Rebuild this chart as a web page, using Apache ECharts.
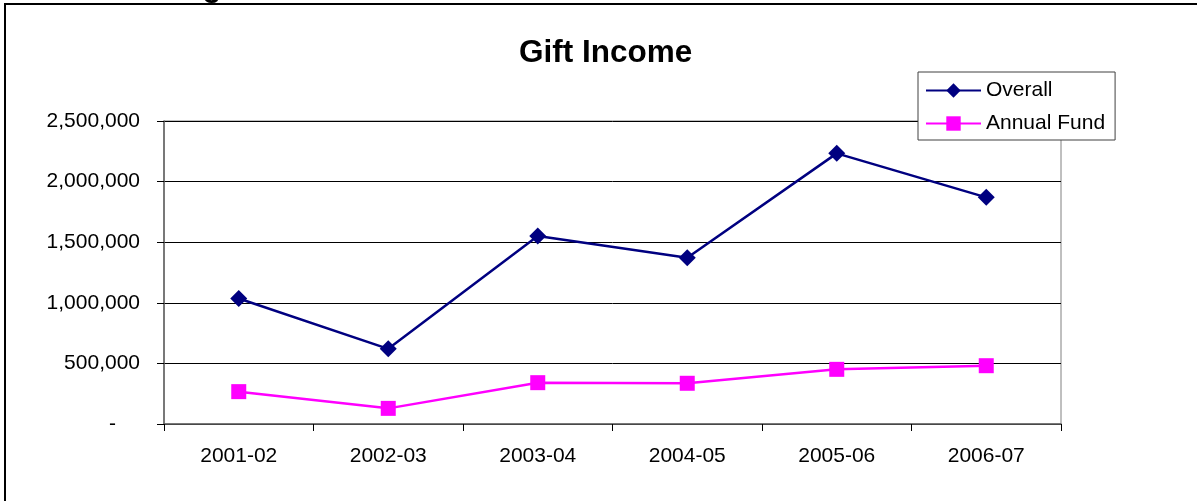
<!DOCTYPE html>
<html>
<head>
<meta charset="utf-8">
<script src="https://cdn.jsdelivr.net/npm/echarts@6/dist/echarts.min.js"></script>
<style>
html,body{margin:0;padding:0;background:#fff;}
#main{width:1197px;height:501px;}
</style>
</head>
<body>
<div id="main"></div>
<script>
const categories = ['2001-02', '2002-03', '2003-04', '2004-05', '2005-06', '2006-07'];
const overall = [1035000, 620000, 1552000, 1372000, 2233000, 1870000];
const annualFund = [267000, 129000, 341000, 336000, 451000, 481000];
const yTicks = [0, 500000, 1000000, 1500000, 2000000, 2500000];

const FONT = '"Liberation Sans", Arial, sans-serif';
const chart = echarts.init(document.getElementById('main'), null, {renderer: 'canvas'});

function fmt(v) {
  if (v === 0) return '{z|-}';
  return v.toString().replace(/\B(?=(\d{3})+(?!\d))/g, ',');
}

chart.setOption({
  animation: false,
  backgroundColor: '#ffffff',
  textStyle: {fontFamily: FONT},
  title: {
    text: 'Gift Income',
    left: 514,
    top: 32,
    textStyle: {fontFamily: FONT, fontSize: 31.5, fontWeight: 'bold', color: '#000'}
  },
  legend: {
    orient: 'vertical',
    left: 918,
    top: 72,
    padding: [8, 10, 6, 7],
    itemGap: 12,
    itemWidth: 55,
    itemHeight: 18,
    borderColor: '#404040',
    borderWidth: 1,
    backgroundColor: '#fff',
    textStyle: {fontFamily: FONT, fontSize: 21, color: '#000'},
    data: ['Overall', 'Annual Fund']
  },
  grid: {
    left: 164, right: 136, top: 121, bottom: 77,
    show: true, borderColor: '#808080', borderWidth: 1, backgroundColor: 'transparent'
  },
  xAxis: {
    type: 'category',
    data: categories,
    boundaryGap: true,
    axisLine: {lineStyle: {color: '#606060', width: 1.5}},
    axisTick: {show: true, length: 7, lineStyle: {color: '#000'}},
    axisLabel: {fontFamily: FONT, fontSize: 21, color: '#000', margin: 22}
  },
  yAxis: {
    type: 'value',
    min: yTicks[0],
    max: yTicks[yTicks.length - 1],
    interval: yTicks[1] - yTicks[0],
    axisLine: {show: true, lineStyle: {color: '#606060', width: 1.5}},
    axisTick: {show: true, length: 7, lineStyle: {color: '#000'}},
    splitLine: {show: true, lineStyle: {color: '#000', width: 1}},
    axisLabel: {
      fontFamily: FONT, fontSize: 21, color: '#000', margin: 24,
      formatter: fmt,
      rich: {z: {fontFamily: FONT, fontSize: 21, color: '#000', padding: [0, 24, 0, 0]}}
    }
  },
  series: [
    {
      name: 'Overall',
      type: 'line',
      data: overall,
      symbol: 'diamond',
      symbolSize: 17,
      lineStyle: {color: '#000080', width: 2.5},
      itemStyle: {color: '#000080'},
      z: 3
    },
    {
      name: 'Annual Fund',
      type: 'line',
      data: annualFund,
      symbol: 'rect',
      symbolSize: 15,
      lineStyle: {color: '#FF00FF', width: 2.5},
      itemStyle: {color: '#FF00FF'},
      z: 3
    }
  ],
  graphic: [
    {
      type: 'text',
      x: 212,
      y: 3,
      style: {text: 'g', font: 'bold 31px ' + FONT, fill: '#000', align: 'center', verticalAlign: 'bottom'},
      silent: true,
      z: 0
    },
    {
      type: 'rect',
      shape: {x: 5, y: 4, width: 1400, height: 700},
      style: {fill: 'none', stroke: '#000', lineWidth: 2},
      silent: true
    }
  ]
});
</script>
</body>
</html>
